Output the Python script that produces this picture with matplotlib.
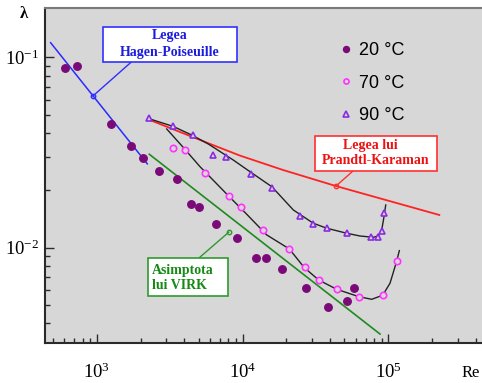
import matplotlib.pyplot as plt
from matplotlib.patches import Rectangle
from matplotlib.ticker import NullFormatter

plt.rcParams['mathtext.fontset'] = 'custom'
plt.rcParams['mathtext.rm'] = 'Liberation Serif'

# measured friction factor, 20 C
re_20 = [609, 736, 1253, 1711, 2087, 2662, 3566, 4414, 5054, 6580, 9210,
         12380, 14380, 18570, 27260, 38590, 52260, 58450]
lam_20 = [0.0884, 0.0906, 0.0447, 0.0343, 0.0298, 0.0253, 0.0231, 0.0169,
          0.0163, 0.0133, 0.0112, 0.0088, 0.0088, 0.0077, 0.00615, 0.00487,
          0.00522, 0.00613]

# 70 C
re_70 = [3322, 4064, 5531, 8054, 9781, 13890, 20940, 26710, 33310, 44270,
         63150, 91540, 114700]
lam_70 = [0.0336, 0.0328, 0.0248, 0.0188, 0.0163, 0.0124, 0.00986, 0.00788,
          0.00676, 0.00604, 0.0055, 0.00563, 0.00852]

# 90 C
re_90 = [2266, 3353, 4541, 6246, 7682, 11470, 15930, 24800, 30360, 38160,
         51850, 76080, 85390, 90540, 93740]
lam_90 = [0.0479, 0.0437, 0.0392, 0.0307, 0.0299, 0.0244, 0.0207, 0.0147,
          0.0134, 0.0127, 0.0119, 0.0114, 0.0114, 0.0122, 0.0153]

# fitted trend curves
fit_90_re = [2320, 3353, 4526, 5826, 8650, 11260, 15930, 22310, 30590, 37800,
             51850, 63960, 78910, 85390, 90100, 93430, 95980]
fit_90_lam = [0.0475, 0.0434, 0.0390, 0.0351, 0.0289, 0.0251, 0.0209, 0.0158,
              0.01345, 0.01267, 0.01192, 0.01153, 0.01135, 0.01153, 0.0124,
              0.01457, 0.01678]
fit_70_re = [3021, 3926, 5110, 7991, 10690, 14660, 20940, 26540, 33310, 44270,
             62950, 76920, 91540, 102700, 114200, 119000]
fit_70_lam = [0.0421, 0.03366, 0.02668, 0.01878, 0.0150, 0.01168, 0.00986,
              0.00786, 0.00677, 0.00605, 0.00553, 0.00536, 0.00563, 0.00651,
              0.00852, 0.00966]

# reference laws
hp_re = [483, 2224]
hp_lam = [0.1196, 0.0276]
virk_re = [2295, 87730]
virk_lam = [0.0310, 0.00352]
pk_re = [2320, 5681, 9614, 19050, 43780, 223800]
pk_lam = [0.0469, 0.0357, 0.0305, 0.0256, 0.0211, 0.01487]

hp_mark = (939, 0.0626)
virk_mark = (8079, 0.0121)
pk_mark = (43780, 0.0211)

bg = '#d7d7d7'
serif = 'Liberation Serif'

fig = plt.figure(figsize=(4.82, 3.83), dpi=100)
ax = fig.add_axes([45 / 482, 40.3 / 383, 437 / 482, 334.7 / 383])
ax.set_facecolor(bg)
ax.set_xscale('log')
ax.set_yscale('log')
ax.set_xlim(442, 4.39e5)
ax.set_ylim(0.00317, 0.182)

# law lines
ax.plot(hp_re, hp_lam, color='#2a2aff', lw=1.1, zorder=2)
ax.plot(virk_re, virk_lam, color='#1f8a1f', lw=1.2, zorder=2)
ax.plot(pk_re, pk_lam, color='#ff2222', lw=1.3, zorder=2)
ax.plot(fit_90_re, fit_90_lam, color='#222222', lw=1.0, zorder=2)
ax.plot(fit_70_re, fit_70_lam, color='#222222', lw=1.0, zorder=2)

# measurements
ax.plot(re_20, lam_20, 'o', ls='none', ms=5.4, color='#7a0a78',
        mec='#7a0a78', zorder=4, label='20 °C')
ax.plot(re_70, lam_70, 'o', ls='none', ms=4.6, mfc=bg, mec='#ff33ff',
        mew=1.2, zorder=4, label='70 °C')
ax.plot(re_90, lam_90, '^', ls='none', ms=5.0, mfc=bg, mec='#8a2be2',
        mew=1.2, zorder=4, label='90 °C')

# annotation boxes: (x0, y0, x1, y1) in axes fraction, connector end, colour
boxes = [
    ((0.132, 0.8378, 0.4387, 0.9441), (0.1968, 0.8378), hp_mark, '#3030ff', '#1c1ce0'),
    ((0.6178, 0.5139, 0.8963, 0.6176), (0.7055, 0.5139), pk_mark, '#ff3030', '#ee1111'),
    ((0.235, 0.1404, 0.4188, 0.254), (0.3531, 0.254), virk_mark, '#2e9a2e', '#158a15'),
]
for (x0, y0, x1, y1), end, mark, edge, tcol in boxes:
    ax.add_patch(Rectangle((x0, y0), x1 - x0, y1 - y0, transform=ax.transAxes,
                           facecolor='white', edgecolor=edge, lw=1.2, zorder=5))
    ax.annotate('', xy=mark, xycoords='data', xytext=end, textcoords='axes fraction',
                arrowprops=dict(arrowstyle='-', color=edge, lw=1.0,
                                shrinkA=0, shrinkB=0), zorder=3)
    ax.plot(*mark, 'o', ms=3.2, mfc='none', mec=edge, mew=1.0, zorder=6)

tb = dict(fontsize=10, fontweight='bold', family=serif, transform=ax.transAxes, zorder=6)
ax.text(0.2854, 0.9169, 'Legea', color='#1c1ce0', ha='center', va='center', **tb)
ax.text(0.2854, 0.866, 'Hagen-Poiseuille', color='#1c1ce0', ha='center', va='center', **tb)
ax.text(0.7435, 0.5877, 'Legea lui', color='#ee1111', ha='center', va='center', **tb)
ax.text(0.757, 0.5429, 'Prandtl-Karaman', color='#ee1111', ha='center', va='center', **tb)
ax.text(0.2441, 0.2169, 'Asimptota', color='#158a15', ha='left', va='center', **tb)
ax.text(0.2441, 0.1721, 'lui VIRK', color='#158a15', ha='left', va='center', **tb)

leg = ax.legend(loc='upper left', bbox_to_anchor=(0.672, 0.8987), frameon=False,
                borderaxespad=0, borderpad=0, handlelength=0.8, handletextpad=0.35,
                labelspacing=0.87, markerscale=0.8,
                prop={'family': 'Liberation Sans', 'size': 13})
leg.set_zorder(7)

# axes frame and ticks
for side in ['left', 'bottom']:
    ax.spines[side].set_color('#2a2a2a')
    ax.spines[side].set_linewidth(1.5)
ax.spines['top'].set_color('#7a7a7a')
ax.spines['top'].set_linewidth(1.5)
ax.spines['right'].set_visible(False)

ax.set_xticks([1e3, 1e4, 1e5])
ax.set_xticklabels([r'$\mathrm{10^{3}}$', r'$\mathrm{10^{4}}$', r'$\mathrm{10^{5}}$'])
ax.set_yticks([1e-2, 1e-1])
ax.set_yticklabels([r'$\mathrm{10^{-2}}$', r'$\mathrm{10^{-1}}$'])
ax.xaxis.set_minor_formatter(NullFormatter())
ax.yaxis.set_minor_formatter(NullFormatter())
ax.tick_params(which='both', direction='in', color='#2a2a2a', width=1.0,
               top=False, right=False, labelsize=13.5)
ax.tick_params(which='major', length=6.5)
ax.tick_params(which='minor', length=3.6)
ax.tick_params(axis='x', which='major', pad=14)
ax.tick_params(axis='y', which='major', pad=4)

fig.text(471 / 482, 1 - 372.7 / 383, 'Re', family=serif, fontsize=12,
         ha='center', va='center')
fig.text(24 / 482, 1 - 14 / 383, 'λ', family=serif, fontsize=12,
         fontweight='bold', ha='center', va='center')

fig.savefig('out.png', dpi=100)
